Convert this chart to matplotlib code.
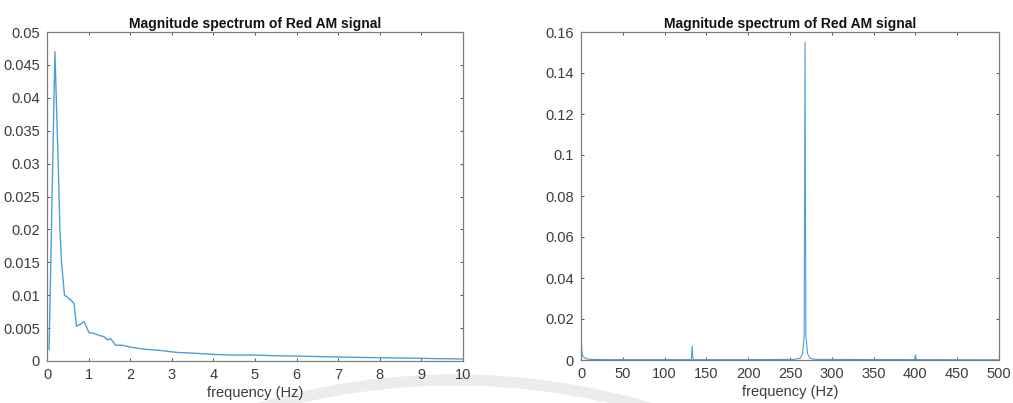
import matplotlib
matplotlib.use("Agg")
import matplotlib.pyplot as plt
import matplotlib.transforms as mtransforms
from matplotlib.patches import Arc
from matplotlib.ticker import FuncFormatter

plt.rcParams['font.family'] = ['Liberation Sans', 'DejaVu Sans']

# Low-frequency view of the magnitude spectrum (0-10 Hz)
low_freq = [0.05, 0.19, 0.27, 0.31, 0.35, 0.42, 0.49, 0.57, 0.65, 0.71, 0.81,
            0.89, 0.94, 1.01, 1.13, 1.25, 1.37, 1.45, 1.53, 1.65, 1.81, 2.01,
            2.33, 2.73, 3.12, 3.5, 4.0, 4.5, 5.0, 5.5, 6.0, 7.0, 8.0, 9.0, 10.0]
low_mag = [0.0018, 0.047, 0.030, 0.020, 0.015, 0.0100, 0.0097, 0.0093, 0.0087,
           0.0053, 0.0056, 0.0060, 0.0053, 0.0043, 0.0042, 0.0039, 0.0037,
           0.0032, 0.0034, 0.0024, 0.0024, 0.0021, 0.0018, 0.0016, 0.0013,
           0.0012, 0.0010, 0.0009, 0.0009, 0.0008, 0.00075, 0.0006, 0.0005,
           0.0004, 0.0003]

# Full magnitude spectrum (0-500 Hz)
full_freq = [0.05, 0.2, 0.4, 1.0, 2.0, 5.0, 10.0, 30.0, 60.0, 100.0, 132.0,
             133.0, 134.0, 200.0, 255.0, 262.0, 265.0, 267.0, 268.0, 269.0,
             271.0, 274.0, 280.0, 399.0, 400.0, 401.0, 500.0]
full_mag = [0.0018, 0.047, 0.010, 0.004, 0.002, 0.0009, 0.0003, 0.0002, 0.0002,
            0.0002, 0.0002, 0.0067, 0.0002, 0.0002, 0.0003, 0.0008, 0.003,
            0.012, 0.155, 0.012, 0.003, 0.0008, 0.0003, 0.0002, 0.0025, 0.0002,
            0.0001]

title_text = "Magnitude spectrum of Red AM signal"
xlabel_text = "frequency (Hz)"

low_xticks = list(range(0, 11))
low_yticks = [0, 0.005, 0.01, 0.015, 0.02, 0.025, 0.03, 0.035, 0.04, 0.045, 0.05]
full_xticks = list(range(0, 501, 50))
full_yticks = [0, 0.02, 0.04, 0.06, 0.08, 0.1, 0.12, 0.14, 0.16]

W, H = 1013, 403
fig = plt.figure(figsize=(W / 100, H / 100), dpi=100)
fig.patch.set_facecolor('white')

line_color = '#4d9fd6'
frame_color = '#7d7d7d'
text_color = '#3c3c3c'


def px_axes(left, top, right, bottom):
    return fig.add_axes([left / W, 1 - bottom / H, (right - left) / W, (bottom - top) / H])


def style(ax, xlim, ylim, xticks, yticks):
    ax.set_xlim(*xlim)
    ax.set_ylim(*ylim)
    ax.set_xticks(xticks)
    ax.set_yticks(yticks)
    fmt = FuncFormatter(lambda v, p: ('%g' % round(v, 6)))
    ax.xaxis.set_major_formatter(fmt)
    ax.yaxis.set_major_formatter(fmt)
    ax.tick_params(direction='in', length=2.5, width=0.7, color='#555555',
                   top=True, right=True, labelsize=10.5, labelcolor=text_color, pad=5)
    for s in ax.spines.values():
        s.set_color(frame_color)
        s.set_linewidth(0.9)
    ax.set_title(title_text, fontsize=10, fontweight='bold', color='#111111', pad=3)
    ax.set_xlabel(xlabel_text, fontsize=10.5, color=text_color, labelpad=3)


ax1 = px_axes(47, 32, 463, 361)
ax1.plot(low_freq, low_mag, color=line_color, linewidth=1.0)
style(ax1, (0, 10), (0, 0.05), low_xticks, low_yticks)

ax2 = px_axes(581, 32, 999, 360)
ax2.plot(full_freq, full_mag, color=line_color, linewidth=0.8)
style(ax2, (0, 500), (0, 0.16), full_xticks, full_yticks)

# Faint decorative arc along the lower edge
pix = mtransforms.Affine2D().scale(1 / W, 1 / H) + fig.transFigure
R = 690
arc = Arc((455, H - 380 - R), 2 * R, 2 * R, theta1=58, theta2=122,
          transform=pix, color='#ececec', linewidth=8, zorder=-1)
fig.patches.append(arc)

fig.savefig('out.png', dpi=100, facecolor='white')
